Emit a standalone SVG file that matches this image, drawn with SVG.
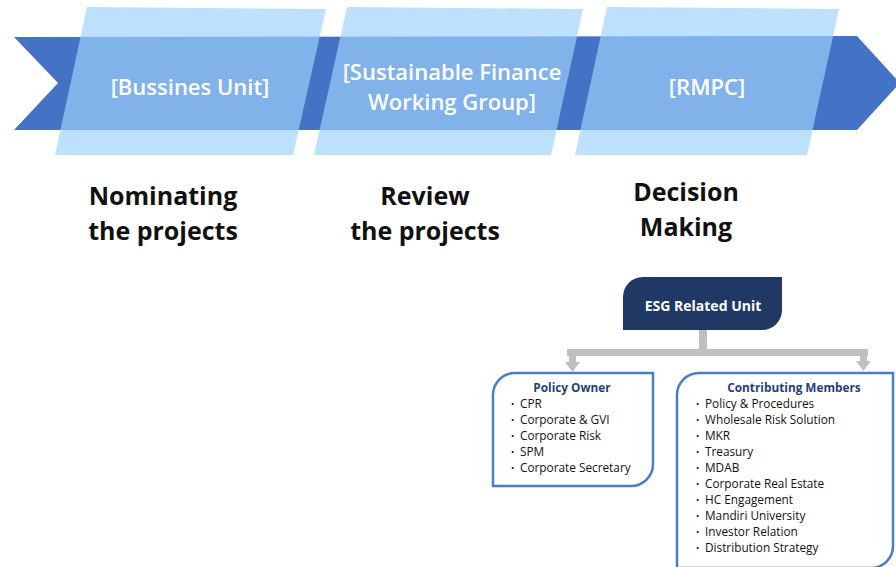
<svg xmlns="http://www.w3.org/2000/svg" width="896" height="567" viewBox="0 0 896 567">
<defs>
<style>
.band{fill:#4472C4}
.para{fill:#9ED2FC;fill-opacity:0.68}
.wt{font-family:"Open Sans","Noto Sans",sans-serif;font-weight:600;font-size:22px;fill:#FFFFFF;text-anchor:middle}
.hd{font-family:"Open Sans","Noto Sans",sans-serif;font-weight:700;font-size:25px;fill:#111111;text-anchor:middle}
.conn{fill:#BFBFBF}
.box{fill:#FFFFFF;stroke:#4A7CC7;stroke-width:2.5}
.ttl{font-family:"Open Sans","Noto Sans",sans-serif;font-weight:700;font-size:11.8px;fill:#1F3F78;text-anchor:middle}
.it{font-family:"Open Sans","Noto Sans",sans-serif;font-size:11.8px;fill:#111111}
.bl{font-family:"Open Sans","Noto Sans",sans-serif;font-size:9px;fill:#111111}
</style>
</defs>
<rect width="896" height="567" fill="#FFFFFF"/>
<g id="band">
<polygon class="band" points="14,37 857,36 900,83 857,130 14,130 58,83"/>
</g>
<g id="node-business-unit">
<polygon class="para" points="87,7 326,9 293,155 55,155"/>
<text class="wt" x="190" y="95">[Bussines Unit]</text>
</g>
<g id="node-sfwg">
<polygon class="para" points="347,7 583,9 551,155 314,155"/>
<text class="wt" x="452" y="80">[Sustainable Finance</text>
<text class="wt" x="452" y="110">Working Group]</text>
</g>
<g id="node-rmpc">
<polygon class="para" points="607,7 839,9 807,155 575,155"/>
<text class="wt" x="707" y="95">[RMPC]</text>
</g>
<g id="label-nominating">
<text class="hd" x="163" y="205">Nominating</text>
<text class="hd" x="163" y="240">the projects</text>
</g>
<g id="label-review">
<text class="hd" x="425" y="205">Review</text>
<text class="hd" x="425" y="240">the projects</text>
</g>
<g id="label-decision">
<text class="hd" x="686" y="201">Decision</text>
<text class="hd" x="686" y="236">Making</text>
</g>
<g id="connectors">
<rect class="conn" x="699" y="330" width="8" height="22"/>
<rect class="conn" x="567" y="349" width="301" height="7"/>
<rect class="conn" x="569" y="352" width="7" height="11"/>
<polygon class="conn" points="565,362 580,362 572.5,372"/>
<rect class="conn" x="860" y="352" width="7" height="10"/>
<polygon class="conn" points="856,361 871,361 863.5,371"/>
</g>
<g id="node-esg">
<path d="M643,277 H782 V310 A20,20 0 0 1 762,330 H623 V297 A20,20 0 0 1 643,277 Z" fill="#1F3864"/>
<text x="703" y="311" font-family="'Open Sans','Noto Sans',sans-serif" font-weight="700" font-size="14" fill="#FFFFFF" text-anchor="middle">ESG Related Unit</text>
</g>
<g id="node-policy-owner">
<path class="box" d="M515,373 H653 V464 A22,22 0 0 1 631,486 H493 V395 A22,22 0 0 1 515,373 Z"/>
<text class="ttl" x="572" y="392">Policy Owner</text>
<text class="bl" x="511" y="407">•</text><text class="it" x="520" y="408">CPR</text>
<text class="bl" x="511" y="423">•</text><text class="it" x="520" y="424">Corporate &amp; GVI</text>
<text class="bl" x="511" y="439">•</text><text class="it" x="520" y="440">Corporate Risk</text>
<text class="bl" x="511" y="455">•</text><text class="it" x="520" y="456">SPM</text>
<text class="bl" x="511" y="471">•</text><text class="it" x="520" y="472">Corporate Secretary</text>
</g>
<g id="node-contributing">
<path class="box" d="M699,373 H893 V546 A22,22 0 0 1 871,568 H677 V395 A22,22 0 0 1 699,373 Z"/>
<text class="ttl" x="794" y="392">Contributing Members</text>
<text class="bl" x="696" y="407">•</text><text class="it" x="705" y="408">Policy &amp; Procedures</text>
<text class="bl" x="696" y="423">•</text><text class="it" x="705" y="424">Wholesale Risk Solution</text>
<text class="bl" x="696" y="439">•</text><text class="it" x="705" y="440">MKR</text>
<text class="bl" x="696" y="455">•</text><text class="it" x="705" y="456">Treasury</text>
<text class="bl" x="696" y="471">•</text><text class="it" x="705" y="472">MDAB</text>
<text class="bl" x="696" y="487">•</text><text class="it" x="705" y="488">Corporate Real Estate</text>
<text class="bl" x="696" y="503">•</text><text class="it" x="705" y="504">HC Engagement</text>
<text class="bl" x="696" y="519">•</text><text class="it" x="705" y="520">Mandiri University</text>
<text class="bl" x="696" y="535">•</text><text class="it" x="705" y="536">Investor Relation</text>
<text class="bl" x="696" y="551">•</text><text class="it" x="705" y="552">Distribution Strategy</text>
</g>
</svg>
